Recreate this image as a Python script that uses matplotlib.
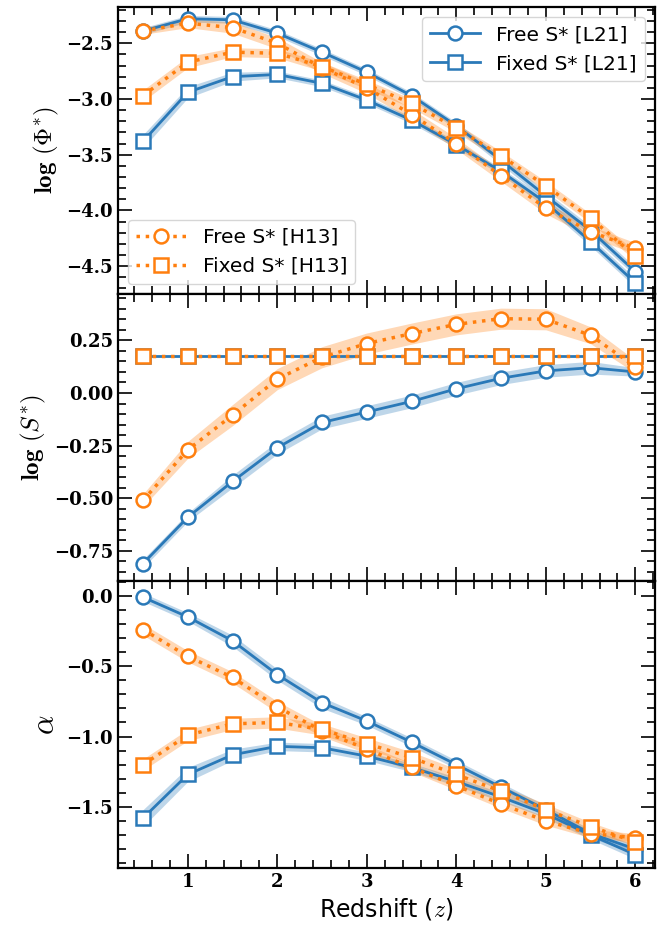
import numpy as np
import matplotlib.pyplot as plt
from matplotlib.ticker import MultipleLocator, FuncFormatter

plt.rcParams['mathtext.fontset'] = 'cm'
plt.rcParams['font.family'] = ['DejaVu Serif']
plt.rcParams['font.weight'] = 'bold'

# redshift bins
z = np.array([0.5, 1.0, 1.5, 2.0, 2.5, 3.0, 3.5, 4.0, 4.5, 5.0, 5.5, 6.0])

# log(Phi*)
phi_free_l21 = np.array([-2.39, -2.28, -2.29, -2.41, -2.58, -2.76, -2.97, -3.24, -3.55, -3.87, -4.18, -4.55])
phi_free_l21_err = np.array([0.03, 0.03, 0.03, 0.03, 0.03, 0.03, 0.03, 0.03, 0.04, 0.04, 0.04, 0.04])
phi_fixed_l21 = np.array([-3.38, -2.94, -2.80, -2.78, -2.86, -3.01, -3.19, -3.41, -3.65, -3.93, -4.28, -4.65])
phi_fixed_l21_err = np.array([0.06, 0.05, 0.04, 0.03, 0.03, 0.03, 0.03, 0.03, 0.03, 0.04, 0.04, 0.04])
phi_free_h13 = np.array([-2.39, -2.32, -2.36, -2.50, -2.72, -2.90, -3.14, -3.40, -3.69, -3.98, -4.19, -4.34])
phi_free_h13_err = np.array([0.03, 0.04, 0.05, 0.05, 0.05, 0.05, 0.05, 0.05, 0.05, 0.05, 0.05, 0.05])
phi_fixed_h13 = np.array([-2.97, -2.67, -2.58, -2.59, -2.71, -2.87, -3.04, -3.26, -3.51, -3.78, -4.07, -4.41])
phi_fixed_h13_err = np.array([0.05, 0.05, 0.04, 0.04, 0.04, 0.04, 0.04, 0.04, 0.04, 0.04, 0.04, 0.04])

# log(S*)
s_free_l21 = np.array([-0.81, -0.59, -0.42, -0.26, -0.14, -0.09, -0.04, 0.02, 0.07, 0.105, 0.12, 0.10])
s_free_l21_err = np.array([0.02, 0.02, 0.03, 0.03, 0.03, 0.03, 0.03, 0.03, 0.03, 0.03, 0.03, 0.02])
s_fixed = np.array([0.176] * 12)
s_free_h13 = np.array([-0.51, -0.27, -0.105, 0.066, 0.17, 0.235, 0.282, 0.326, 0.353, 0.35, 0.274, 0.125])
s_free_h13_err = np.array([0.03, 0.04, 0.05, 0.05, 0.05, 0.05, 0.05, 0.05, 0.05, 0.05, 0.04, 0.03])

# alpha
a_free_l21 = np.array([-0.01, -0.15, -0.32, -0.56, -0.76, -0.89, -1.04, -1.20, -1.36, -1.52, -1.69, -1.80])
a_free_l21_err = np.array([0.03, 0.03, 0.04, 0.04, 0.04, 0.03, 0.03, 0.03, 0.03, 0.03, 0.03, 0.03])
a_fixed_l21 = np.array([-1.58, -1.27, -1.13, -1.07, -1.08, -1.14, -1.22, -1.32, -1.43, -1.55, -1.70, -1.84])
a_fixed_l21_err = np.array([0.06, 0.05, 0.04, 0.03, 0.03, 0.03, 0.03, 0.03, 0.03, 0.03, 0.03, 0.03])
a_free_h13 = np.array([-0.24, -0.43, -0.58, -0.79, -0.96, -1.09, -1.22, -1.35, -1.48, -1.60, -1.69, -1.72])
a_free_h13_err = np.array([0.04, 0.04, 0.04, 0.04, 0.04, 0.03, 0.03, 0.03, 0.03, 0.03, 0.03, 0.03])
a_fixed_h13 = np.array([-1.20, -0.99, -0.91, -0.90, -0.95, -1.05, -1.15, -1.27, -1.39, -1.52, -1.64, -1.75])
a_fixed_h13_err = np.array([0.04, 0.04, 0.04, 0.04, 0.04, 0.04, 0.04, 0.04, 0.04, 0.04, 0.03, 0.03])

blue = '#2a79b8'
orange = '#ff7f0e'
sans = {'family': 'DejaVu Sans', 'weight': 'normal', 'size': 14.5}


def draw(ax, y, err, color, ls, marker, label=None, band=True):
    if band:
        ax.fill_between(z, y - err, y + err, color=color, alpha=0.3, lw=0)
    lw = 2.0 if ls == '-' else 2.5
    line, = ax.plot(z, y, color=color, ls=ls, lw=lw, marker=marker, ms=10,
                    mfc='white', mec=color, mew=1.8, label=label)
    return line


def num_fmt(fmt):
    return FuncFormatter(lambda v, pos: (fmt % v).replace('-', '\u2212'))


fig, axes = plt.subplots(3, 1, sharex=True, figsize=(6.59, 9.36), dpi=100)
fig.subplots_adjust(left=0.179, right=0.994, top=0.9925, bottom=0.0726, hspace=0)
ax1, ax2, ax3 = axes

# top: log(Phi*)
l1 = draw(ax1, phi_free_l21, phi_free_l21_err, blue, '-', 'o', 'Free S* [L21]')
l2 = draw(ax1, phi_fixed_l21, phi_fixed_l21_err, blue, '-', 's', 'Fixed S* [L21]')
l3 = draw(ax1, phi_free_h13, phi_free_h13_err, orange, ':', 'o', 'Free S* [H13]')
l4 = draw(ax1, phi_fixed_h13, phi_fixed_h13_err, orange, ':', 's', 'Fixed S* [H13]')
leg1 = ax1.legend(handles=[l1, l2], loc='upper right', prop=sans, handlelength=2.5)
ax1.add_artist(leg1)
ax1.legend(handles=[l3, l4], loc='lower left', prop=sans, handlelength=2.5)
ax1.set_ylim(-4.75, -2.175)
ax1.yaxis.set_major_locator(MultipleLocator(0.5))
ax1.yaxis.set_minor_locator(MultipleLocator(0.1))
ax1.yaxis.set_major_formatter(num_fmt('%.1f'))
ax1.set_ylabel(r'$\mathbf{log}\ (\mathbf{\Phi}^{*})$', fontsize=18)

# middle: log(S*)
draw(ax2, s_free_l21, s_free_l21_err, blue, '-', 'o')
draw(ax2, s_fixed, None, blue, '-', 's', band=False)
draw(ax2, s_free_h13, s_free_h13_err, orange, ':', 'o')
draw(ax2, s_fixed, None, orange, ':', 's', band=False)
ax2.set_ylim(-0.893, 0.47)
ax2.yaxis.set_major_locator(MultipleLocator(0.25))
ax2.yaxis.set_minor_locator(MultipleLocator(0.05))
ax2.yaxis.set_major_formatter(num_fmt('%.2f'))
ax2.set_ylabel(r'$\mathbf{log}\ (S^{*})$', fontsize=18)

# bottom: alpha
draw(ax3, a_free_l21, a_free_l21_err, blue, '-', 'o')
draw(ax3, a_fixed_l21, a_fixed_l21_err, blue, '-', 's')
draw(ax3, a_free_h13, a_free_h13_err, orange, ':', 'o')
draw(ax3, a_fixed_h13, a_fixed_h13_err, orange, ':', 's')
ax3.set_ylim(-1.935, 0.105)
ax3.yaxis.set_major_locator(MultipleLocator(0.5))
ax3.yaxis.set_minor_locator(MultipleLocator(0.1))
ax3.yaxis.set_major_formatter(num_fmt('%.1f'))
ax3.set_ylabel(r'$\alpha$', fontsize=22)

ax3.set_xlim(0.22, 6.22)
ax3.xaxis.set_major_locator(MultipleLocator(1))
ax3.xaxis.set_minor_locator(MultipleLocator(0.2))
ax3.xaxis.set_major_formatter(num_fmt('%d'))
ax3.set_xlabel(r'Redshift ($z$)', fontsize=17, fontfamily='DejaVu Sans', fontweight='normal')

for ax in axes:
    ax.tick_params(which='both', direction='in', top=True, right=True, labelsize=13)
    ax.tick_params(which='major', length=10, width=1.2)
    ax.tick_params(which='minor', length=6, width=1.2)
    for sp in ax.spines.values():
        sp.set_linewidth(1.6)

fig.savefig('out.png', dpi=100)
